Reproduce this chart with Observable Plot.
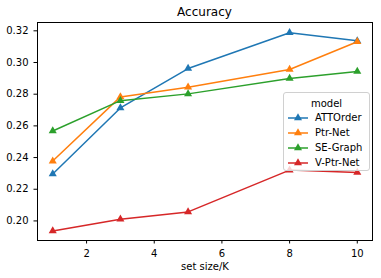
<!DOCTYPE html>
<html><head><meta charset="utf-8">
<script src="https://cdn.jsdelivr.net/npm/d3@7"></script>
<script src="https://cdn.jsdelivr.net/npm/@observablehq/plot@0.6"></script>
<style>
body{margin:0;background:#fff;font-family:"DejaVu Sans",sans-serif;}
#wrap{position:relative;width:381px;height:278px;}
#title{position:absolute;left:37px;width:335px;top:5px;text-align:center;font-size:12px;color:#000;}
#legend{position:absolute;left:283px;top:92px;width:87px;height:79px;border:1px solid #d0d0d0;border-radius:3px;background:rgba(255,255,255,0.8);box-sizing:border-box;font-size:10px;color:#000;}
#legend .lt{text-align:center;margin-top:4px;height:13px;line-height:13px;}
#legend .row{display:flex;align-items:center;height:15px;}
#legend svg{margin-left:3px;margin-right:6px;}
</style></head>
<body>
<div id="wrap"><div id="title">Accuracy</div><div id="chart"></div><div id="legend"></div></div>
<script>
const setSizes = [1, 3, 5, 8, 10];
const models = ["ATTOrder", "Ptr-Net", "SE-Graph", "V-Ptr-Net"];
const colors = ["#1f77b4", "#ff7f0e", "#2ca02c", "#d62728"];
const attorder = [0.2296, 0.2713, 0.2962, 0.3188, 0.3137];
const ptrnet   = [0.2378, 0.2783, 0.2844, 0.2956, 0.3131];
const segraph  = [0.2568, 0.2759, 0.2802, 0.2899, 0.2943];
const vptrnet  = [0.1937, 0.2011, 0.2057, 0.2321, 0.2306];
const xTicks = [2, 4, 6, 8, 10];
const yTicks = [0.20, 0.22, 0.24, 0.26, 0.28, 0.30, 0.32];

const series = [attorder, ptrnet, segraph, vptrnet];
const data = [];
series.forEach((vals, i) => vals.forEach((v, j) => data.push({model: models[i], x: setSizes[j], y: v})));

const R = 3;
const chart = Plot.plot({
  width: 381, height: 278,
  marginLeft: 37, marginRight: 9, marginTop: 22, marginBottom: 38,
  style: {fontFamily: "DejaVu Sans, sans-serif", fontSize: "10px", color: "#000", background: "#fff"},
  x: {domain: [0.55, 10.45], ticks: xTicks, label: "set size/K", labelAnchor: "center", labelArrow: "none", labelOffset: 29, tickSize: 3.5},
  y: {domain: [0.18765, 0.32525], ticks: yTicks, tickFormat: ".2f", label: null, tickSize: 3.5},
  color: {domain: models, range: colors},
  marks: [
    Plot.line(data, {x: "x", y: "y", z: "model", stroke: "model", strokeWidth: 1.5}),
    Plot.dot(data, {x: "x", y: "y", fill: "model", symbol: "triangle", r: R, stroke: "none"}),
    Plot.frame({stroke: "#000", strokeWidth: 1})
  ]
});
document.getElementById("chart").appendChild(chart);

const leg = document.getElementById("legend");
const t = document.createElement("div"); t.className = "lt"; t.textContent = "model"; leg.appendChild(t);
models.forEach((m, i) => {
  const row = document.createElement("div"); row.className = "row";
  const tri = d3.symbol(d3.symbolTriangle, R * R * Math.PI)();
  row.innerHTML = `<svg width="22" height="10"><line x1="1" x2="21" y1="5" y2="5" stroke="${colors[i]}" stroke-width="1.5"/><path d="${tri}" transform="translate(11,5)" fill="${colors[i]}"/></svg><span>${m}</span>`;
  leg.appendChild(row);
});
</script>
</body></html>
